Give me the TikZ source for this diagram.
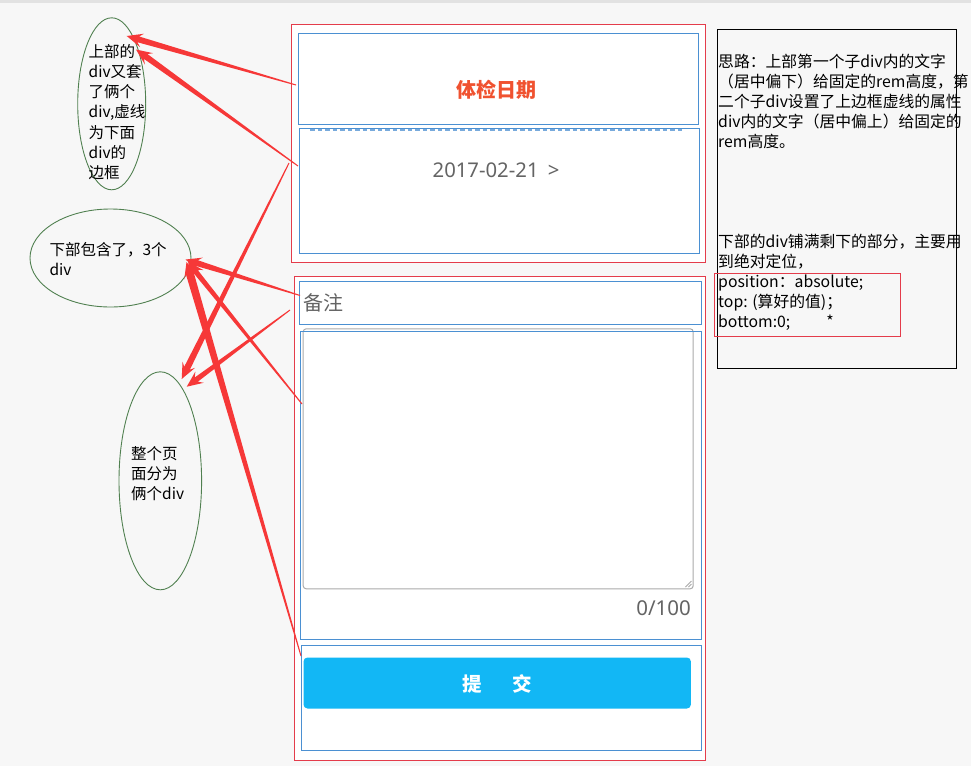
\documentclass[tikz,border=0pt]{standalone}
\usepackage{fontspec}
\usetikzlibrary{calc,shapes.geometric}
\newfontfamily\cjk{Noto Sans CJK SC}
\newfontfamily\latsans{Noto Sans}
\definecolor{bgc}{RGB}{247,247,247}
\definecolor{stripgray}{RGB}{226,226,226}
\definecolor{redline}{RGB}{228,60,75}
\definecolor{blueline}{RGB}{75,144,210}
\definecolor{dashblue}{RGB}{120,170,220}
\definecolor{arrowred}{RGB}{246,56,56}
\definecolor{ellgreen}{RGB}{80,128,80}
\definecolor{titleorange}{RGB}{240,82,48}
\definecolor{textgray}{RGB}{100,100,100}
\definecolor{btnblue}{RGB}{18,183,245}
\definecolor{areagray}{RGB}{170,170,170}
\newcommand\tapArrow[3][3]{%
  \coordinate (tN) at ($(#3)!12pt!(#2)$);
  \coordinate (tH) at ($(#3)!16pt!(#2)$);
  \fill[arrowred] ($(#2)!0.5pt!90:(#3)$) -- ($(tN)!#1pt!90:(#3)$) -- ($(tH)!7pt!90:(#3)$) -- (#3)
    -- ($(tH)!7pt!-90:(#3)$) -- ($(tN)!#1pt!-90:(#3)$) -- ($(#2)!0.5pt!-90:(#3)$) -- cycle;
}
\tikzset{
  redbox/.style={draw=redline, line width=1pt, inner sep=0, outer sep=0, anchor=north west},
  bluebox/.style={draw=blueline, line width=1pt, inner sep=0, outer sep=0, anchor=north west},
  oval/.style={ellipse, draw=ellgreen, line width=0.9pt, inner sep=0, outer sep=0},
  ctext/.style={font=\cjk\fontsize{15.5}{20}\selectfont, inner sep=0, anchor=base west, text=black},
  ntext/.style={font=\cjk\fontsize{15.8}{20}\selectfont, inner sep=0, anchor=base west, text=black},
}
\begin{document}
\begin{tikzpicture}[x=1pt,y=-1pt]
\useasboundingbox (0,0) rectangle (971,766);
\fill[bgc] (0,0) rectangle (971,766);
\fill[stripgray] (0,0) rectangle (971,3);

% ---- page mock-up ----
\node[redbox, fill=white, minimum width=414.4, minimum height=238] (redtop) at (291.3,24.3) {};
\node[bluebox, minimum width=400, minimum height=91] (b1) at (298.3,33.3) {};
\node[bluebox, minimum width=400, minimum height=125] (b2) at (299.3,128.3) {};
\draw[dashblue, line width=1.4pt, dash pattern=on 4.5pt off 3pt] (310,130) -- (683,130);
\node[font=\cjk\bfseries\fontsize{20}{24}\selectfont, text=titleorange, inner sep=0] (title) at (496.7,90) {体检日期};
\node[font=\latsans\fontsize{20.3}{24}\selectfont, text=textgray, inner sep=0] (date) at (496,170) {2017-02-21\hspace{0.45em}>};

\node[redbox, fill=white, minimum width=411.4, minimum height=484] (redbot) at (294.3,276) {};
\node[bluebox, minimum width=402.4, minimum height=42.7] (b3) at (299.3,281.3) {};
\node[font=\cjk\fontsize{20}{24}\selectfont, text=textgray, inner sep=0, anchor=west] (remark) at (303.5,302.7) {备注};
\node[draw=areagray, line width=1pt, rounded corners=3pt, fill=white, inner sep=0, anchor=north west,
      minimum width=390, minimum height=260] (area) at (302.7,328.3) {};
\draw[areagray, line width=0.8pt] (685.5,587) -- (691.5,581) (688.5,587) -- (691.5,584);
\node[bluebox, minimum width=401, minimum height=308.3] (b4) at (300.7,331) {};
\node[font=\latsans\fontsize{20.5}{24}\selectfont, text=textgray, inner sep=0, anchor=east] (count) at (691,607.7) {0/100};
\node[bluebox, minimum width=400.7, minimum height=104.3] (b5) at (301,645.7) {};
\node[fill=btnblue, rounded corners=4pt, inner sep=0, anchor=north west,
      minimum width=387.4, minimum height=51] (btn) at (303.3,657.3) {};
\node[font=\cjk\bfseries\fontsize{19.5}{24}\selectfont, text=white, inner sep=0] (btntext) at (497.3,684) {提\hspace{30pt}交};

% ---- note on the right ----
\node[draw=black, line width=1pt, inner sep=0, outer sep=0, anchor=north west,
      minimum width=239, minimum height=339] (note) at (717,29) {};
\node[redbox, minimum width=186, minimum height=63] (code) at (714,273) {};
\foreach \txt [count=\i] in {思路：上部第一个子div内的文字,（居中偏下）给固定的rem高度，第,二个子div设置了上边框虚线的属性,div内的文字（居中偏上）给固定的,rem高度。}
  \node[ntext] (na\i) at (718,{67.7+20*(\i-1)}) {\txt};
\foreach \txt [count=\i] in {下部的div铺满剩下的部分，主要用,到绝对定位，,position：absolute;,top: (算好的值)；,bottom:0;}
  \node[ntext] (nb\i) at (718,{247.4+20*(\i-1)}) {\txt};
\node[ntext, anchor=base] (star) at (830,327.4) {*};

% ---- ovals ----
\node[oval, minimum width=68, minimum height=172] (e1) at (111.7,103.8) {};
\foreach \txt [count=\i] in {上部的,div又套,了俩个,{div,虚线},为下面,div的,边框}
  \node[ctext] (ea\i) at (88.5,{57.5+20.15*(\i-1)}) {\txt};
\node[oval, minimum width=161, minimum height=98] (e2) at (110.5,258) {};
\node[ctext] (eb1) at (49.3,255.7) {下部包含了，3个};
\node[ctext] (eb2) at (49.3,275.5) {div};
\node[oval, minimum width=82.6, minimum height=218] (e3) at (160.3,480.8) {};
\foreach \txt [count=\i] in {整个页,面分为,俩个div}
  \node[ctext] (ec\i) at (131,{459.7+20*(\i-1)}) {\txt};

% ---- arrows ----
\coordinate (s1) at (296,85);    \coordinate (t1) at (126.7,36);
\coordinate (s2) at (298,166);   \coordinate (t2) at (136,49.5);
\coordinate (s3) at (289,163);   \coordinate (t3) at (181.7,379);
\coordinate (s4) at (300,295.5); \coordinate (t4) at (185.5,259.5);
\coordinate (s5) at (290,310);   \coordinate (t5) at (186.7,386.7);
\coordinate (s6) at (302,404);   \coordinate (t6) at (188,262);
\coordinate (s7) at (301,656);   \coordinate (t7) at (186.5,262);
\tapArrow{s1}{t1}
\tapArrow{s2}{t2}
\tapArrow[3.2]{s3}{t3}
\tapArrow{s4}{t4}
\tapArrow[2.6]{s5}{t5}
\tapArrow[2.6]{s6}{t6}
\tapArrow[4]{s7}{t7}
\end{tikzpicture}
\end{document}
